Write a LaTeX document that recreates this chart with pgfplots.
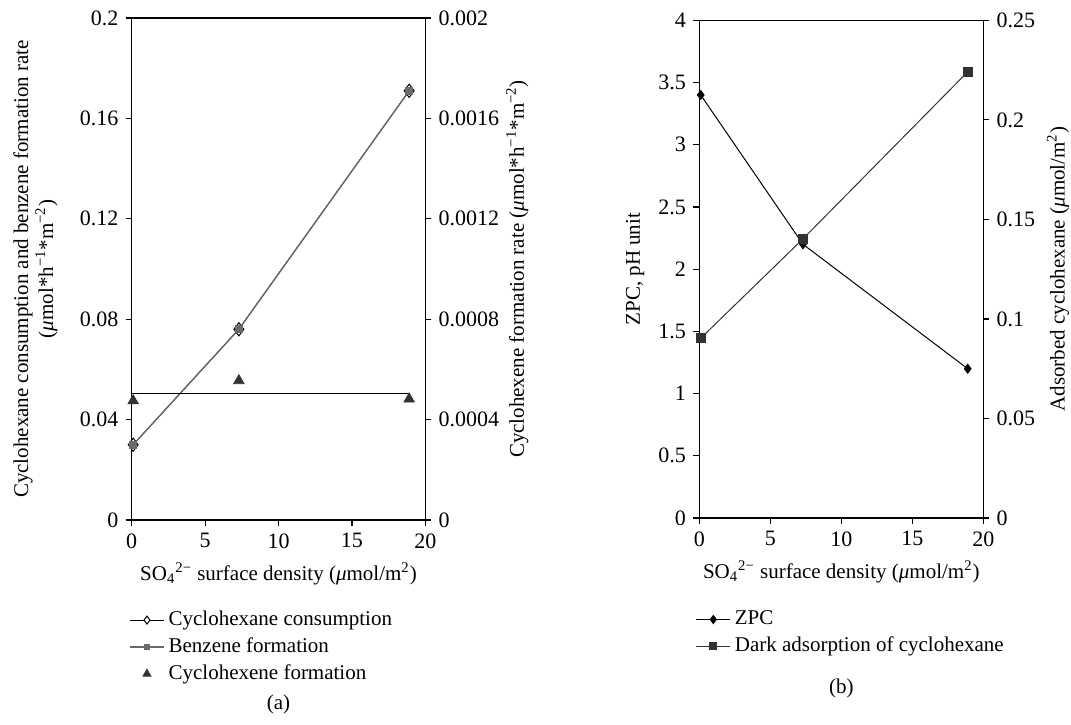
\documentclass[border=0pt]{standalone}
\usepackage{fontspec}
\setmainfont{Liberation Serif}
\usepackage{pgfplots}
\pgfplotsset{compat=1.18}
\definecolor{dark}{HTML}{333333}
\definecolor{midgray}{HTML}{6B6B6B}
\pgfplotsset{
  myaxis/.style={
    scale only axis,
    axis line style={line width=0.6pt},
    every tick/.style={line width=0.6pt,black},
    tick align=outside,
    major tick length=3pt,
    ticklabel style={font=\fontsize{11}{12}\selectfont},
    label style={font=\fontsize{10.5}{12.5}\selectfont},
    /pgf/number format/assume math mode=true,
    scaled y ticks=false, scaled x ticks=false,
    xmin=0, xmax=20,
    xtick={0,5,10,15,20},
    xticklabels={0,5,10,15,20},
    clip=false,
  },
}
\begin{document}
\fontsize{10.5}{12.6}\selectfont
\begin{tikzpicture}
\useasboundingbox (0,0) rectangle (535.5pt,-362pt);
% ---------- panel (a), left axis
\begin{axis}[myaxis,
  at={(65.85pt,-260pt)}, anchor=south west,
  width=146.8pt, height=251pt,
  ymin=0, ymax=0.2,
  ytick={0,0.04,0.08,0.12,0.16,0.2},
  yticklabels={0,0.04,0.08,0.12,0.16,0.2},
  xtick pos=bottom, ytick pos=left,
  xlabel={SO\textsubscript{4}\textsuperscript{2−} surface density (\textit{μ}mol/m\textsuperscript{2})},
  ylabel={Cyclohexane consumption and benzene formation rate\\(\textit{μ}mol*h\textsuperscript{−1}*m\textsuperscript{−2})},
  ylabel style={align=center, at={(axis description cs:-0.328,0.5)}, anchor=center, rotate=0},
  legend style={at={(axis description cs:-0.03,-0.165)}, anchor=north west, draw=none, fill=none,
    font=\fontsize{10.5}{12}\selectfont, row sep=0.5pt},
  legend cell align=left,
]
\addplot[black, line width=0.5pt, mark=diamond*, mark size=3.3pt,
  mark options={fill=white, draw=black, line width=0.5pt}, forget plot]
  coordinates {(0.1,0.030) (7.3,0.076) (18.9,0.171)};
\addplot[midgray, line width=0.6pt, mark=square*, mark size=1.6pt,
  mark options={fill=midgray, draw=midgray}, forget plot]
  coordinates {(0.1,0.030) (7.3,0.076) (18.9,0.171)};
\addlegendimage{black, line width=0.5pt, mark=diamond*, mark size=2pt, mark options={fill=white,draw=black}}
\addlegendentry{Cyclohexane consumption}
\addlegendimage{midgray, line width=0.6pt, mark=square*, mark size=1.4pt, mark options={fill=midgray}}
\addlegendentry{Benzene formation}
\addlegendimage{only marks, mark=triangle*, mark size=2.3pt, dark}
\addlegendentry{Cyclohexene formation}
\node at (axis description cs:0.5,-0.368) {(a)};
\end{axis}
% ---------- panel (a), right axis
\begin{axis}[myaxis,
  at={(65.85pt,-260pt)}, anchor=south west,
  width=146.8pt, height=251pt,
  ymin=0, ymax=0.002,
  axis y line*=right, axis x line=none,
  ytick={0,0.0004,0.0008,0.0012,0.0016,0.002},
  yticklabels={0,0.0004,0.0008,0.0012,0.0016,0.002},
  ylabel={Cyclohexene formation rate (\textit{μ}mol*h\textsuperscript{−1}*m\textsuperscript{−2})},
  ylabel style={at={(axis description cs:1.313,0.5)}, anchor=center, rotate=0},
]
\addplot[black, line width=0.6pt] coordinates {(0,0.000505) (18.9,0.000505)};
\addplot[only marks, mark=triangle*, mark size=3pt, dark]
  coordinates {(0.1,0.000475) (7.3,0.000555) (18.9,0.000482)};
\end{axis}
% ---------- panel (b), left axis
\begin{axis}[myaxis,
  at={(349.65pt,-259pt)}, anchor=south west,
  width=142pt, height=248.85pt,
  ymin=0, ymax=4,
  ytick={0,0.5,1,1.5,2,2.5,3,3.5,4},
  yticklabels={0,0.5,1,1.5,2,2.5,3,3.5,4},
  xtick pos=bottom, ytick pos=left,
  xlabel={SO\textsubscript{4}\textsuperscript{2−} surface density (\textit{μ}mol/m\textsuperscript{2})},
  ylabel={ZPC, pH unit},
  ylabel style={at={(axis description cs:-0.226,0.5)}, anchor=center, rotate=0},
  legend style={at={(axis description cs:-0.035,-0.17)}, anchor=north west, draw=none, fill=none,
    font=\fontsize{10.5}{12}\selectfont, row sep=0.5pt},
  legend cell align=left,
]
\addplot[black, line width=0.5pt, mark=diamond*, mark size=2.2pt, forget plot]
  coordinates {(0.1,3.40) (7.3,2.20) (18.9,1.20)};
\addlegendimage{black, line width=0.5pt, mark=diamond*, mark size=2pt}
\addlegendentry{ZPC}
\addlegendimage{dark, line width=0.5pt, mark=square*, mark size=1.8pt}
\addlegendentry{Dark adsorption of cyclohexane}
\node at (axis description cs:0.5,-0.342) {(b)};
\end{axis}
% ---------- panel (b), right axis
\begin{axis}[myaxis,
  at={(349.65pt,-259pt)}, anchor=south west,
  width=142pt, height=248.85pt,
  ymin=0, ymax=0.25,
  axis y line*=right, axis x line=none,
  ytick={0,0.05,0.1,0.15,0.2,0.25},
  yticklabels={0,0.05,0.1,0.15,0.2,0.25},
  ylabel={Adsorbed cyclohexane (\textit{μ}mol/m\textsuperscript{2})},
  ylabel style={at={(axis description cs:1.263,0.5)}, anchor=center, rotate=0},
]
\addplot[dark, line width=0.5pt, mark=square*, mark size=2.2pt]
  coordinates {(0.1,0.0903) (7.3,0.1402) (18.9,0.2241)};
\end{axis}
\end{tikzpicture}
\end{document}
